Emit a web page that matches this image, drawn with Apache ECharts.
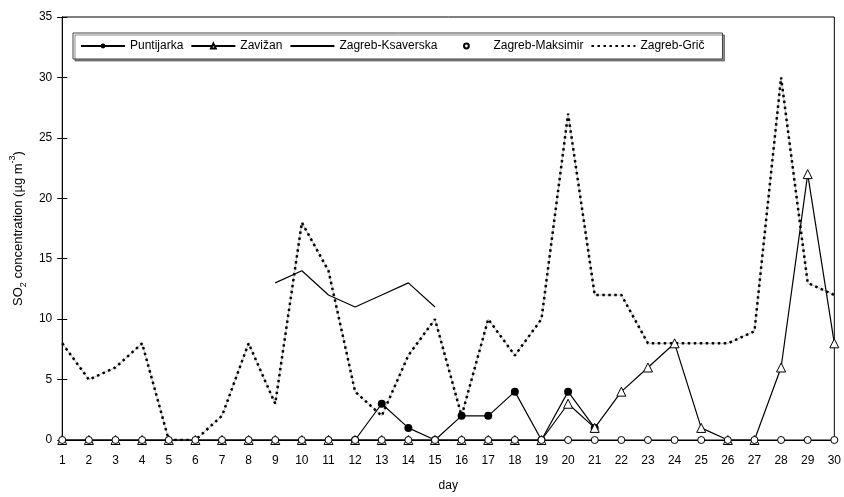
<!DOCTYPE html>
<html>
<head>
<meta charset="utf-8">
<script src="https://cdn.jsdelivr.net/npm/echarts@6/dist/echarts.min.js"></script>
<style>html,body{margin:0;padding:0;background:#fff}#c{width:844px;height:497px}</style>
</head>
<body>
<div id="c"></div>
<script>
const days = ['1','2','3','4','5','6','7','8','9','10','11','12','13','14','15','16','17','18','19','20','21','22','23','24','25','26','27','28','29','30'];
const puntijarka = [null,null,null,null,null,null,null,null,null,null,null,0,3,1,0,2,2,4,0,4,1,null,null,null,null,null,null,null,null,null];
const zavizan = [0,0,0,0,0,0,0,0,0,0,0,0,0,0,0,0,0,0,0,3,1,4,6,8,1,0,0,6,22,8];
const ksaverska = [null,null,null,null,null,null,null,null,13,14,12,11,12,13,11,null,null,null,null,null,null,null,null,null,null,null,null,null,null,null];
const maksimir = [0,0,0,0,0,0,0,0,0,0,0,0,0,0,0,0,0,0,0,0,0,0,0,0,0,0,0,0,0,0];
const gric = [8,5,6,8,0,0,2,8,3,18,14,4,2,7,10,2,10,7,10,27,12,12,8,8,8,8,9,30,13,12];
const yTicks = [0,5,10,15,20,25,30,35];

const FONT = 'Liberation Sans, Arial, sans-serif';
const chart = echarts.init(document.getElementById('c'));
const yBase = {
  type: 'value', min: yTicks[0], max: yTicks[yTicks.length-1], interval: yTicks[1]-yTicks[0],
  splitLine: {show:false},
  axisLine: {show:true, lineStyle:{color:'#000', width:1}}
};
chart.setOption({
  animation: false,
  textStyle: {fontFamily: FONT},
  grid: {left:58, right:9, top:17, bottom:56, show:true, borderColor:'#000', borderWidth:1},
  legend: {
    left: 73, top: 33, padding: [7, 18, 7, 7],
    itemWidth: 44, itemHeight: 6, itemGap: 7,
    backgroundColor: '#fff', borderColor: '#444', borderWidth: 1,
    shadowColor: 'rgba(0,0,0,0.45)', shadowOffsetX: 2, shadowOffsetY: 2, shadowBlur: 0,
    textStyle: {fontSize: 12, color:'#000', fontFamily: FONT},
    data: [
      'Puntijarka',
      'Zavižan',
      {name:'Zagreb-Ksaverska', itemStyle:{opacity:0}},
      'Zagreb-Maksimir',
      {name:'Zagreb-Grič', itemStyle:{opacity:0}}
    ]
  },
  xAxis: {
    type: 'category', data: days, boundaryGap: false,
    name: 'day', nameLocation: 'middle', nameGap: 40,
    nameTextStyle: {fontSize: 12, color:'#000', fontFamily: FONT},
    axisLine: {lineStyle:{color:'#000', width:1}},
    axisTick: {show:false},
    axisLabel: {color:'#000', fontSize:12, margin:15, interval:0, fontFamily: FONT}
  },
  yAxis: [
    Object.assign({}, yBase, {
      name: 'SO{sub|2} concentration (µg m{sup|-3})',
      nameLocation: 'middle', nameGap: 36,
      nameTextStyle: {fontSize: 13, color:'#000', fontFamily: FONT,
        rich: {
          sub: {fontSize: 9, verticalAlign: 'bottom', padding:[0,0,-3,0], color:'#000', fontFamily: FONT},
          sup: {fontSize: 9, verticalAlign: 'top', padding:[-4,0,0,0], color:'#000', fontFamily: FONT}
        }},
      axisTick: {show:true, inside:false, length:5, lineStyle:{color:'#000'}},
      axisLabel: {color:'#000', fontSize:12, margin:10, fontFamily: FONT}
    }),
    Object.assign({}, yBase, {
      position: 'left',
      axisTick: {show:true, inside:true, length:5, lineStyle:{color:'#000'}},
      axisLabel: {show:false}
    })
  ],
  series: [
    {
      name: 'Zagreb-Grič-under', type: 'line', data: gric, symbol: 'none', silent: true,
      lineStyle: {color:'#aaa', width:0.8}, z: 1
    },
    {
      name: 'Zagreb-Grič', type: 'line', data: gric, symbol: 'none',
      lineStyle: {color:'#000', width:2.5, type:[2.5,3.5]}, itemStyle:{color:'#000'}, z: 2
    },
    {
      name: 'Zagreb-Ksaverska', type: 'line', data: ksaverska, symbol: 'none',
      lineStyle: {color:'#000', width:1.2}, itemStyle:{color:'#000'}, z: 3
    },
    {
      name: 'Puntijarka', type: 'line', data: puntijarka, symbol: 'circle', symbolSize: 8,
      lineStyle: {color:'#000', width:1.2}, itemStyle:{color:'#000'}, z: 4
    },
    {
      name: 'Zavižan', type: 'line', data: zavizan, symbol: 'triangle', symbolSize: 9,
      lineStyle: {color:'#000', width:1.2}, itemStyle:{color:'#fff', borderColor:'#000', borderWidth:1}, z: 5
    },
    {
      name: 'Zagreb-Maksimir', type: 'line', data: maksimir, symbol: 'circle', symbolSize: 7,
      lineStyle: {color:'#000', width:0, opacity:0}, itemStyle:{color:'#fff', borderColor:'#000', borderWidth:1}, z: 6
    }
  ]
});
</script>
</body>
</html>
